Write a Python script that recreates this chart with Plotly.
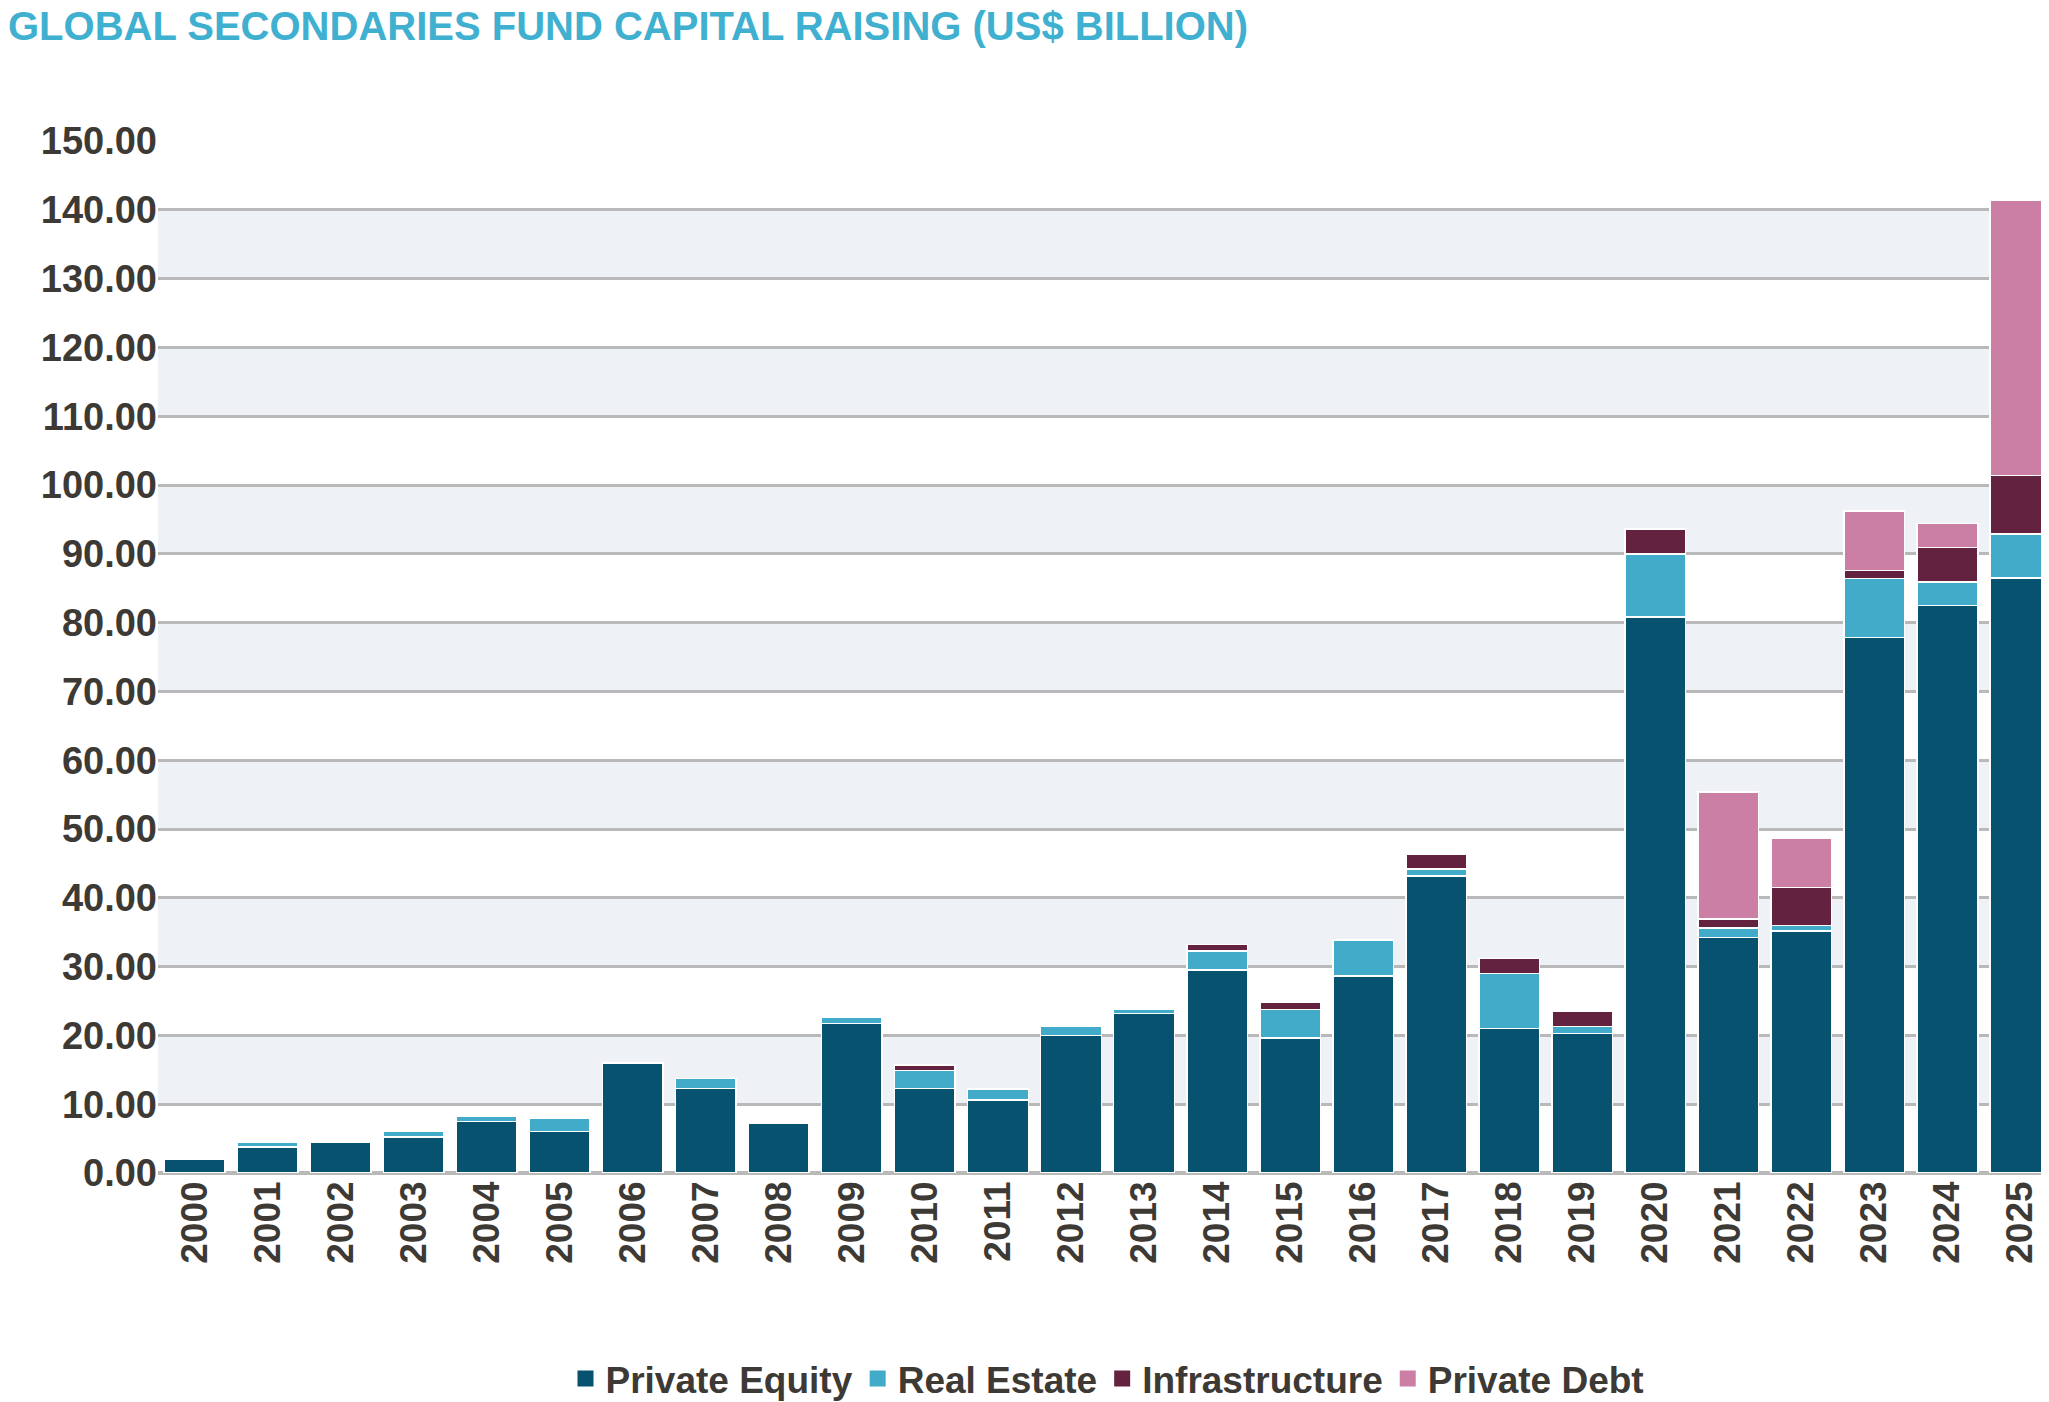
import plotly.graph_objects as go

years = [str(y) for y in range(2000, 2026)]
private_equity = [2.0, 3.8, 4.4, 5.2, 7.5, 6.0, 16.0, 12.3, 7.3, 21.7, 12.3, 10.6, 20.0, 23.2, 29.5, 19.6, 28.6, 43.2, 21.0, 20.3, 80.8, 34.2, 35.2, 77.8, 82.5, 86.5]
real_estate = [0, 0.6, 0, 0.8, 0.7, 2.0, 0, 1.4, 0, 1.0, 2.6, 1.6, 1.3, 0.6, 2.8, 4.2, 5.3, 1.0, 8.0, 1.0, 9.2, 1.4, 0.8, 8.6, 3.4, 6.4]
infrastructure = [0, 0, 0, 0, 0, 0, 0, 0, 0, 0, 0.8, 0, 0, 0, 0.9, 1.0, 0, 2.2, 2.2, 2.2, 3.6, 1.3, 5.5, 1.2, 5.0, 8.5]
private_debt = [0, 0, 0, 0, 0, 0, 0, 0, 0, 0, 0, 0, 0, 0, 0, 0, 0, 0, 0, 0, 0, 18.5, 7.2, 8.6, 3.5, 40.0]
tick_vals = [i * 10 for i in range(16)]

series = [
    ("Private Equity", private_equity, "#07526f"),
    ("Real Estate", real_estate, "#41abc9"),
    ("Infrastructure", infrastructure, "#632340"),
    ("Private Debt", private_debt, "#cc7fa5"),
]

fig = go.Figure()
for name, vals, col in series:
    fig.add_trace(go.Bar(x=years, y=vals, name=name, showlegend=False,
                         marker=dict(color=col, line=dict(color="white", width=1.5))))
for name, vals, col in series:
    fig.add_trace(go.Scatter(x=[None], y=[None], mode="markers", name=name,
                             marker=dict(symbol="square", size=30, color=col)))

for v in tick_vals[1::2]:
    if v + 10 <= 140:
        fig.add_hrect(y0=v, y1=v + 10, fillcolor="#eef1f6", line_width=0, layer="below", opacity=1)

font_family = "Liberation Sans, Arial, sans-serif"
fig.update_layout(
    width=2049, height=1402,
    barmode="stack", bargap=0.17,
    plot_bgcolor="white", paper_bgcolor="white",
    margin=dict(l=150, r=0, t=133, b=222),
    title=dict(text="<b>GLOBAL SECONDARIES FUND CAPITAL RAISING (US$ BILLION)</b>", x=0, xanchor="left", y=0.997, yanchor="top",
               font=dict(family=font_family, size=40, color="#3fb0cf")),
    yaxis=dict(range=[0, 150], tickvals=tick_vals, ticktext=[f"{v:.2f}" for v in tick_vals],
               showgrid=True, gridcolor="#b9b9b9", gridwidth=3, zeroline=True, zerolinecolor="#b9b9b9", zerolinewidth=4,
               tickfont=dict(family=font_family, size=38, color="#3d3935", weight="bold"), ticks="", ticklen=0),
    xaxis=dict(tickangle=-90, tickfont=dict(family=font_family, size=37, color="#3d3935", weight="bold"), ticks="", showline=False),
    legend=dict(orientation="h", x=0.5, xanchor="center", y=-0.2, yanchor="middle",
                font=dict(family=font_family, size=37, color="#3d3935", weight="bold"), traceorder="normal"),
)
fig.write_html("out.html")
